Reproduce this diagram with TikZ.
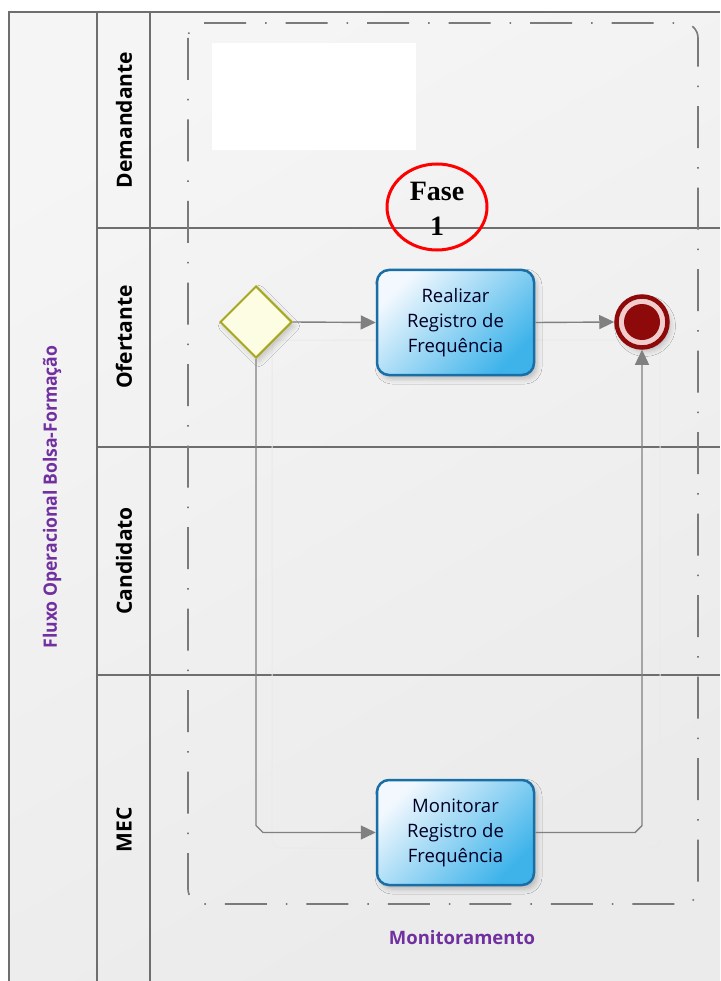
\documentclass[tikz,border=0pt]{standalone}
\usepackage{fontspec}
\setmainfont{Open Sans}
\newfontfamily\timesf{Liberation Serif}
\usetikzlibrary{arrows.meta,shapes.geometric,shadows.blur,calc}
\definecolor{poolline}{HTML}{6E6E6E}
\definecolor{grpline}{HTML}{7A7A7A}
\definecolor{flowgray}{HTML}{808080}
\definecolor{taskborder}{HTML}{1A6EA6}
\definecolor{tasklight}{HTML}{F2F8FE}
\definecolor{taskdark}{HTML}{3DB3EA}
\definecolor{gwborder}{HTML}{A7A81F}
\definecolor{gwfill}{HTML}{FDFDE3}
\definecolor{enddark}{HTML}{8E0A0A}
\definecolor{endpink}{HTML}{F2CDCD}
\definecolor{purpletxt}{HTML}{7030A0}
\definecolor{ghost}{HTML}{EAEAEA}
\tikzset{
  lane/.style={draw=poolline, line width=1.3pt},
  lanelbl/.style={rotate=90, font=\bfseries\fontsize{21}{24}\selectfont, text=black, inner sep=0pt},
  task/.style={rectangle, rounded corners=12pt, draw=taskborder, line width=2.5pt,
    top color=tasklight, bottom color=taskdark, shading angle=45,
    minimum width=157pt, minimum height=105pt, align=center, inner sep=0pt,
    font=\fontsize{18.5}{25}\selectfont, text=black!85!blue,
    blur shadow={shadow xshift=3pt, shadow yshift=-4pt, shadow blur radius=5pt, shadow opacity=22}},
  flow/.style={draw=flowgray, line width=1.4pt, -{Triangle[length=15pt,width=14pt]}},
  grp/.style={draw=grpline, line width=1.6pt, rounded corners=15pt,
    dash pattern=on 42pt off 19pt on 1.5pt off 19pt},
}
\begin{document}
\begin{tikzpicture}[x=1pt,y=-1pt]
\useasboundingbox (0,0) rectangle (720,981);
\fill[white] (0,0) rectangle (720,981);
\shade[top color=white!96!black, bottom color=white!92!black, shading angle=30] (9,12) rectangle (720,981);
% pool and lanes
\draw[lane] (9,981) -- (9,12) -- (720,12);
\draw[lane] (97,12) -- (97,981);
\draw[lane] (150,12) -- (150,981);
\draw[lane] (97,228) -- (720,228);
\draw[lane] (97,447) -- (720,447);
\draw[lane] (97,675) -- (720,675);
% labels
\node[inner sep=0pt, rotate=90, text=purpletxt] (pool) at (52,497)
  {\resizebox{303pt}{14pt}{\bfseries Fluxo Operacional Bolsa-Formação}};
\node[lanelbl] (ldem) at (124,120) {Demandante};
\node[lanelbl] (lofe) at (124,337) {Ofertante};
\node[lanelbl] (lcan) at (124,561) {Candidato};
\node[lanelbl] (lmec) at (124,830) {MEC};
% group
\draw[grp] (188,23) rectangle (698,904);
\node[text=purpletxt, font=\bfseries\fontsize{18.5}{22}\selectfont] (grplbl) at (462,938) {Monitoramento};
% white box
\fill[white] (212,43) rectangle (416,150);
% ghost lines
\draw[ghost, line width=1pt, rounded corners=8pt] (272,340) rectangle (660,848);
% nodes
\node[diamond, aspect=1, draw=gwborder, fill=gwfill, line width=2pt, minimum size=72pt, inner sep=0pt,
  blur shadow={shadow xshift=3pt, shadow yshift=-4pt, shadow blur radius=5pt, shadow opacity=18}] (gw) at (256,322) {};
\node[task] (t1) at (455.5,322.5) {Realizar\\Registro de\\Frequência};
\node[task] (t2) at (455.5,832.5) {Monitorar\\Registro de\\Frequência};
\node[circle, draw=enddark, line width=4.5pt, fill=endpink, minimum size=51pt, inner sep=0pt,
  blur shadow={shadow xshift=3pt, shadow yshift=-4pt, shadow blur radius=5pt, shadow opacity=22}] (end) at (642,322) {};
\fill[enddark] (end.center) circle (18pt);
% flows
\draw[flow] (gw.east) -- (t1.west);
\draw[flow] (t1.east) -- (end.west);
\draw[flow] (gw.south) -- ($(gw.south |- t2.west)+(0,-7)$) -- ++(7,7) -- (t2.west);
\draw[flow] (t2.east) -- ($(end.south |- t2.west)+(-7,0)$) -- ++(7,-7) -- (end.south);
% Fase 1
\node[ellipse, draw=red, line width=3pt, minimum width=100pt, minimum height=86pt, inner sep=0pt] (fase) at (437,207) {};
\node[align=center, font=\timesf\bfseries\fontsize{28}{35}\selectfont, inner sep=0pt] (fasetxt) at (437,209) {Fase\\1};
\end{tikzpicture}
\end{document}
